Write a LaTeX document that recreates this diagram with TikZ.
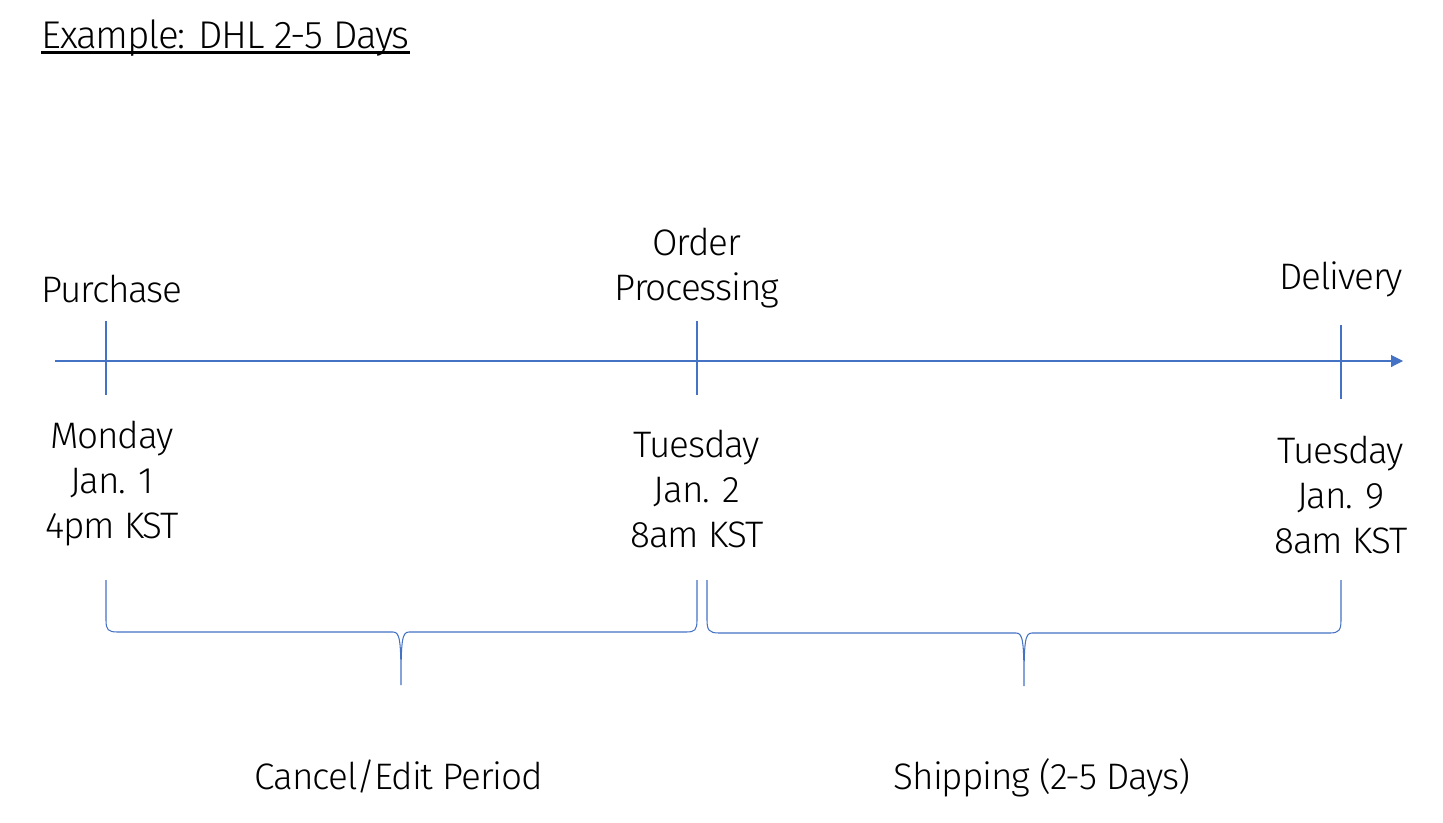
\documentclass[tikz,border=0pt]{standalone}
\usepackage{fontspec}
\setmainfont{Fira Sans}[UprightFont={* Light},LetterSpace=-3]
\usetikzlibrary{arrows.meta}
\definecolor{lineblue}{HTML}{4472C4}

\begin{document}
\begin{tikzpicture}[x=0.02cm,y=-0.02cm,
    every node/.style={inner sep=0pt,align=center,anchor=base,font=\fontsize{21}{25.6}\selectfont},
    blueline/.style={lineblue,line width=0.6pt}]
    \useasboundingbox (0,0) rectangle (1443,822);

    % title
    \node[anchor=base west,font=\fontsize{22}{26}\selectfont] (title) at (41,48) {Example: DHL 2-5 Days};
    \draw[line width=1.2pt] ([yshift=-0.09cm]title.base west) -- ([yshift=-0.09cm]title.base east);

    % time axis
    \coordinate (axisstart) at (55,361);
    \coordinate (axisend) at (1403,361);
    \draw[blueline,-{Triangle[length=0.24cm,width=0.24cm]}] (axisstart) -- (axisend);
    \foreach \x/\a/\b in {106/321/395,697/321/395,1341/325/399}{
        \draw[blueline] (\x,\a) -- (\x,\b);
    }

    % events (base = last line)
    \node (purchase) at (112,302) {Purchase};
    \node (processing) at (697,300) {Order\\Processing};
    \node (delivery) at (1341,289) {Delivery};
    \node (monday) at (112,538) {Monday\\Jan. 1\\4pm KST};
    \node (tuesday) at (697,547) {Tuesday\\Jan. 2\\8am KST};
    \node (nexttuesday) at (1341,553) {Tuesday\\Jan. 9\\8am KST};

    % braces
    \draw[blueline] (106,580) -- (106,620) .. controls (106,630) and (108,632) .. (118,632)
        -- (393,632) .. controls (400,632) and (401,640) .. (401,685)
        .. controls (401,640) and (402,632) .. (409,632)
        -- (686,632) .. controls (695,632) and (697,630) .. (697,620) -- (697,580);
    \draw[blueline] (707,580) -- (707,620) .. controls (707,630) and (709,633) .. (719,633)
        -- (1016,633) .. controls (1023,633) and (1024,641) .. (1024,686)
        .. controls (1024,641) and (1025,633) .. (1032,633)
        -- (1330,633) .. controls (1339,633) and (1341,630) .. (1341,620) -- (1341,580);
    \node (cancel) at (399,789) {Cancel/Edit Period};
    \node (shipping) at (1042,789) {Shipping (2-5 Days)};
\end{tikzpicture}
\end{document}
